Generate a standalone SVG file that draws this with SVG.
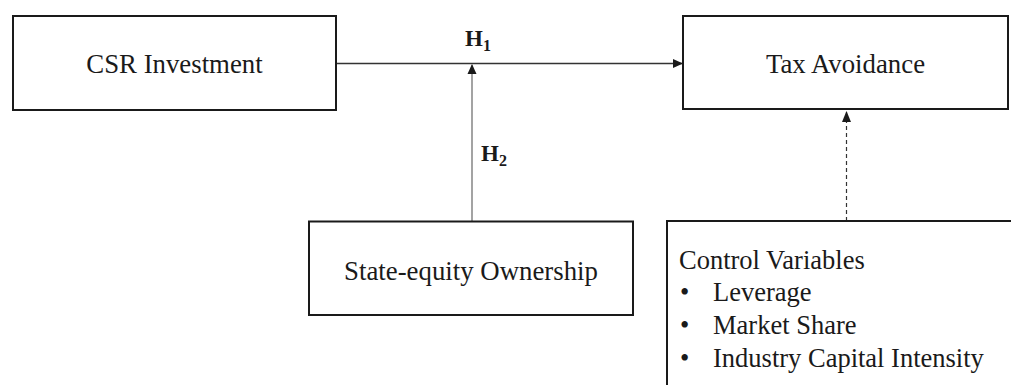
<svg xmlns="http://www.w3.org/2000/svg" width="1011" height="385" viewBox="0 0 1011 385">
<style>
.box{fill:#fff;stroke:#1a1a1a;stroke-width:2}
.t{font-family:"Liberation Serif","Times New Roman",serif;font-size:26.8px;fill:#1a1a1a}
.c{font-family:"Liberation Serif","Times New Roman",serif;font-size:26.5px;fill:#1a1a1a}
.h{font-family:"Liberation Serif","Times New Roman",serif;font-size:23px;font-weight:bold;fill:#1a1a1a}
.sub{font-size:16px}
</style>
<defs>
<marker id="ah" markerWidth="10" markerHeight="10" refX="9" refY="5" orient="auto" markerUnits="userSpaceOnUse">
<path d="M0,0.5 L10,5 L0,9.5 z" fill="#1a1a1a"/>
</marker>
<marker id="ah2" markerWidth="12" markerHeight="10" refX="11" refY="5" orient="auto" markerUnits="userSpaceOnUse">
<path d="M0,0.5 L11,5 L0,9.5 z" fill="#1a1a1a"/>
</marker>
</defs>
<g id="connectors">
<line x1="337" y1="63.5" x2="682" y2="63.5" stroke="#333" stroke-width="1.6" marker-end="url(#ah)"/>
<line x1="472" y1="221" x2="472" y2="65" stroke="#666" stroke-width="1.2" marker-end="url(#ah)"/>
<line x1="846.5" y1="221" x2="846.5" y2="111" stroke="#333" stroke-width="1.2" stroke-dasharray="4,3" marker-end="url(#ah2)"/>
<text class="h" x="465" y="46">H<tspan class="sub" dy="5">1</tspan></text>
<text class="h" x="481" y="161">H<tspan class="sub" dy="5">2</tspan></text>
</g>
<g id="csr">
<rect class="box" x="13" y="16" width="323" height="94"/>
<text class="t" x="174.5" y="73" text-anchor="middle">CSR Investment</text>
</g>
<g id="tax">
<rect class="box" x="683" y="16" width="325" height="93"/>
<text class="t" x="845.5" y="73" text-anchor="middle">Tax Avoidance</text>
</g>
<g id="state">
<rect class="box" x="309" y="221.5" width="324" height="93.5"/>
<text class="t" x="471" y="280" text-anchor="middle">State-equity Ownership</text>
</g>
<g id="control">
<rect class="box" x="667" y="221" width="360" height="180"/>
<text class="c" x="679" y="269">Control Variables</text>
<text class="c" x="680" y="301">•</text>
<text class="c" x="713" y="301">Leverage</text>
<text class="c" x="680" y="334">•</text>
<text class="c" x="713" y="334">Market Share</text>
<text class="c" x="680" y="367">•</text>
<text class="c" x="713" y="367">Industry Capital Intensity</text>
</g>
</svg>
